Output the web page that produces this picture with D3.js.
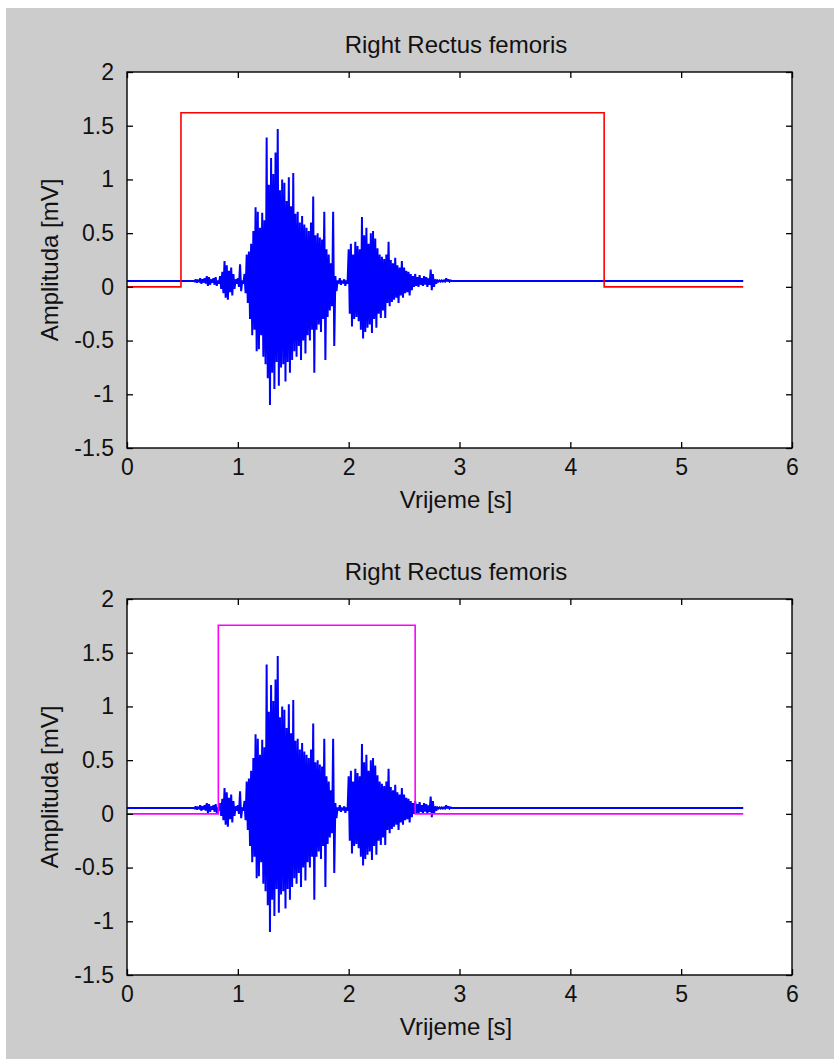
<!DOCTYPE html>
<html><head><meta charset="utf-8">
<script src="https://cdn.jsdelivr.net/npm/d3@7"></script>
<style>body{margin:0;background:#fff}text{font-family:"Liberation Sans",Arial,sans-serif;fill:#111}</style>
</head><body>
<svg id="c" width="834" height="1059"></svg>
<script>
// ---- data ----
const xTicks = [0, 1, 2, 3, 4, 5, 6];
const yTicks = [-1.5, -1, -0.5, 0, 0.5, 1, 1.5, 2];
const titles = ["Right Rectus femoris", "Right Rectus femoris"];
const xLabel = "Vrijeme [s]";
const yLabel = "Amplituda [mV]";

const emgBaseline = 0.055;
const emgEnd = 5.56;
const emgStart = 0.60;
const emgStep = 0.01;
// EMG samples (mV), one row per 0.1 s
const emgValues = [
  0.055, 0.05, 0.07, 0.04, 0.06, 0.05, 0.08, 0.03, 0.07, 0.04,
  0.08, 0.03, 0.10, 0.01, 0.09, 0.02, 0.07, 0.04, 0.08, 0.02,
  0.09, 0.01, 0.06, 0.03, 0.10, -0.02, 0.14, -0.06, 0.24, -0.10,
  0.20, -0.12, 0.15, -0.05, 0.18, -0.08, 0.12, -0.02, 0.07, 0.03,
  0.08, 0.00, 0.21, -0.04, 0.06, 0.03, 0.12, -0.06, 0.30, -0.15,
  0.33, -0.30, 0.40, -0.45, 0.52, -0.40, 0.74, -0.60, 0.70, -0.58,
  0.55, -0.45, 0.69, -0.65, 0.62, -0.72, 1.39, -0.85, 0.95, -1.10,
  1.20, -0.80, 1.05, -0.95, 1.25, -0.70, 1.47, -0.92, 0.90, -0.75,
  1.00, -0.72, 0.97, -0.88, 0.80, -0.70, 1.02, -0.80, 0.75, -0.68,
  1.06, -0.60, 0.68, -0.65, 0.70, -0.55, 0.60, -0.68, 0.66, -0.50,
  0.58, -0.62, 0.55, -0.45, 0.52, -0.50, 0.60, -0.40, 0.84, -0.80,
  0.48, -0.40, 0.50, -0.35, 0.46, -0.42, 0.44, -0.30, 0.70, -0.68,
  0.35, -0.28, 0.30, -0.22, 0.22, -0.18, 0.70, -0.55, 0.10, -0.04,
  0.06, 0.03, 0.08, 0.02, 0.05, 0.04, 0.07, 0.01, 0.06, 0.03,
  0.35, -0.25, 0.40, -0.37, 0.30, -0.30, 0.42, -0.28, 0.38, -0.32,
  0.35, -0.40, 0.65, -0.48, 0.48, -0.42, 0.55, -0.38, 0.40, -0.35,
  0.50, -0.43, 0.52, -0.30, 0.45, -0.38, 0.36, -0.25, 0.30, -0.29,
  0.28, -0.22, 0.26, -0.29, 0.30, -0.15, 0.42, -0.18, 0.25, -0.14,
  0.22, -0.12, 0.27, -0.10, 0.20, -0.15, 0.18, -0.08, 0.24, -0.10,
  0.18, -0.06, 0.15, -0.05, 0.14, -0.08, 0.12, -0.03, 0.10, 0.00,
  0.12, 0.01, 0.09, 0.00, 0.11, 0.02, 0.08, 0.01, 0.10, 0.02,
  0.09, 0.00, 0.08, 0.02, 0.16, -0.03, 0.12, 0.00, 0.07, 0.03,
  0.06, 0.05, 0.06, 0.05, 0.06, 0.05, 0.06, 0.05, 0.08, 0.05,
  0.07, 0.05, 0.06, 0.055
];

const redOnset = 0.487, redOffset = 4.305, redLevel = 1.62;
const magentaOnset = 0.824, magentaOffset = 2.60, magentaLevel = 1.755;

// ---- layout ----
const svg = d3.select("#c");
svg.append("rect").attr("x", 6).attr("y", 8).attr("width", 828).attr("height", 1051).attr("fill", "#cccccc");

const left = 127, right = 792, plotH = 376;
const panelTops = [72, 599];

const emgPoints = [[0, emgBaseline]]
  .concat(emgValues.map((v, i) => [emgStart + i * emgStep, v]))
  .concat([[emgEnd, emgBaseline]]);

function stepPoints(on, off, lvl) {
  return [[0, 0], [on, 0], [on, lvl], [off, lvl], [off, 0], [emgEnd, 0]];
}
const steps = [
  { pts: stepPoints(redOnset, redOffset, redLevel), color: "#ff0000" },
  { pts: stepPoints(magentaOnset, magentaOffset, magentaLevel), color: "#ff00ff" }
];

panelTops.forEach((top, k) => {
  const x = d3.scaleLinear().domain([0, 6]).range([left, right]);
  const y = d3.scaleLinear().domain([-1.5, 2]).range([top + plotH, top]);
  const g = svg.append("g");
  g.append("rect").attr("x", left).attr("y", top).attr("width", right - left).attr("height", plotH)
    .attr("fill", "#fff");

  const line = d3.line().x(d => x(d[0])).y(d => y(d[1]));
  g.append("path").datum(emgPoints).attr("d", line).attr("fill", "none")
    .attr("stroke", "#0000ff").attr("stroke-width", 2).attr("stroke-linejoin", "miter").attr("stroke-miterlimit", 2);
  g.append("path").datum(steps[k].pts).attr("d", line).attr("fill", "none")
    .attr("stroke", steps[k].color).attr("stroke-width", 1.6);

  const fmt = d => String(d);
  const ax = (gen) => gen.tickSizeInner(-6).tickSizeOuter(0);
  const bottomAx = g.append("g").attr("transform", `translate(0,${top + plotH})`)
    .call(ax(d3.axisBottom(x).tickValues(xTicks).tickFormat(fmt)).tickPadding(11));
  const topAx = g.append("g").attr("transform", `translate(0,${top})`)
    .call(ax(d3.axisTop(x).tickValues(xTicks).tickFormat("")));
  const leftAx = g.append("g").attr("transform", `translate(${left},0)`)
    .call(ax(d3.axisLeft(y).tickValues(yTicks).tickFormat(fmt)).tickPadding(13));
  const rightAx = g.append("g").attr("transform", `translate(${right},0)`)
    .call(ax(d3.axisRight(y).tickValues(yTicks).tickFormat("")));
  [bottomAx, topAx, leftAx, rightAx].forEach(a => {
    a.select(".domain").remove();
    a.selectAll("line").attr("stroke", "#000").attr("stroke-width", 1.3);
    a.selectAll("text").style("font-size", "23px").attr("fill", "#111");
  });
  g.append("rect").attr("x", left).attr("y", top).attr("width", right - left).attr("height", plotH)
    .attr("fill", "none").attr("stroke", "#000").attr("stroke-width", 1.4);

  g.append("text").attr("x", 456).attr("y", top - 19).attr("text-anchor", "middle")
    .style("font-size", "24px").text(titles[k]);
  g.append("text").attr("x", 456).attr("y", top + plotH + 60).attr("text-anchor", "middle")
    .style("font-size", "24px").text(xLabel);
  g.append("text").attr("transform", `translate(58,${top + 188}) rotate(-90)`).attr("text-anchor", "middle")
    .style("font-size", "24px").text(yLabel);
});
</script>
</body></html>
